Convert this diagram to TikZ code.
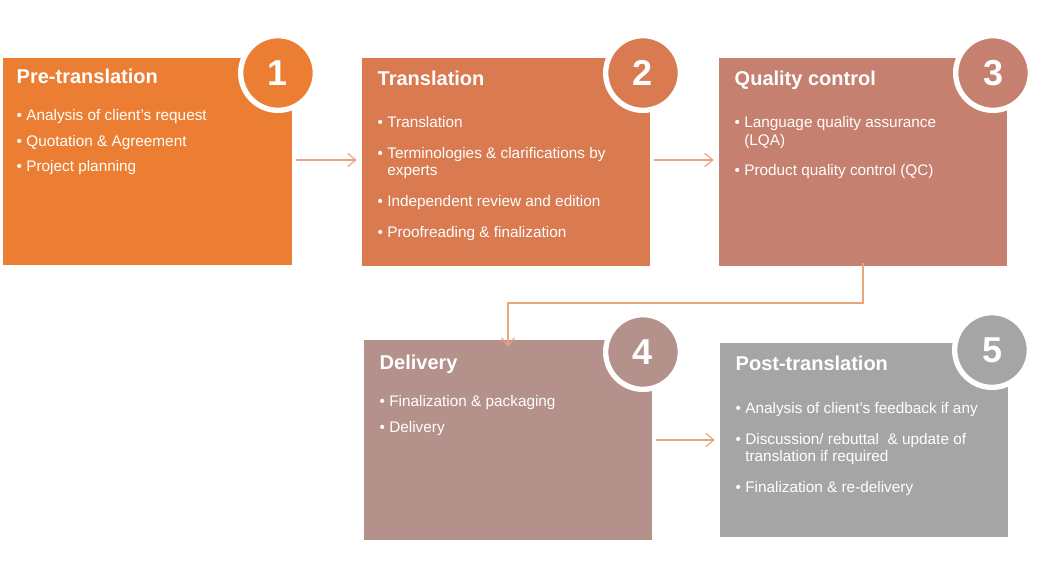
\documentclass[tikz,border=0pt]{standalone}
\usepackage{fontspec}
\setmainfont{Liberation Sans}
\usetikzlibrary{arrows.meta}
\definecolor{c1}{HTML}{EC7E33}
\definecolor{c2}{HTML}{D97A50}
\definecolor{c3}{HTML}{C5806F}
\definecolor{c4}{HTML}{B4918A}
\definecolor{c5}{HTML}{A5A5A5}
\definecolor{arr}{HTML}{E9A57E}
\tikzset{
 box/.style={anchor=north west,inner sep=0pt,outer sep=0pt},
 ttl/.style={anchor=north west,text=white,font=\bfseries\fontsize{15}{18}\selectfont},
 items/.style={anchor=north west,text=white,font=\fontsize{11.5}{13}\selectfont,align=left},
 num/.style={circle,draw=white,line width=4pt,minimum size=56pt,text=white,font=\bfseries\fontsize{27}{27}\selectfont},
 conn/.style={draw=arr,line width=0.9pt,-{Straight Barb[length=6pt,width=10pt]}}
}
\begin{document}
\begin{tikzpicture}[x=0.75pt,y=-0.75pt]
\useasboundingbox (0,0) rectangle (1041,583);
\fill[c1] (3,58) rectangle (292,265); \coordinate (b1) at (292,160);
\fill[c2] (362,58) rectangle (650,266); \coordinate (b2l) at (362,160); \coordinate (b2r) at (650,160);
\fill[c3] (719,58) rectangle (1007,266); \coordinate (b3l) at (719,160); \coordinate (b3b) at (863,266);
\fill[c4] (364,340) rectangle (652,540); \coordinate (b4t) at (508,340); \coordinate (b4r) at (652,440);
\fill[c5] (720,343) rectangle (1008,537); \coordinate (b5l) at (720,440);
\node[num,fill=c1] (n1) at (278,73) {1};
\node[num,fill=c2] (n2) at (643,73) {2};
\node[num,fill=c3] (n3) at (993,73) {3};
\node[num,fill=c4] (n4) at (643,352) {4};
\node[num,fill=c5] (n5) at (992,350) {5};
\node[ttl] (t1) at (12,64) {Pre-translation};
\node[ttl] (t2) at (373,66) {Translation};
\node[ttl] (t3) at (730,66) {Quality control};
\node[ttl] (t4) at (375,350) {Delivery};
\node[ttl] (t5) at (731,351) {Post-translation};
\node[items] (i1) at (12,105) {• Analysis of client's request\\[6pt]• Quotation \& Agreement\\[6pt]• Project planning};
\node[items] (i2) at (373,112) {• Translation\\[10pt]• Terminologies \& clarifications by\\\phantom{• }experts\\[10pt]• Independent review and edition\\[10pt]• Proofreading \& finalization};
\node[items] (i3) at (730,112) {• Language quality assurance\\\phantom{• }(LQA)\\[10pt]• Product quality control (QC)};
\node[items] (i4) at (375,391) {• Finalization \& packaging\\[6pt]• Delivery};
\node[items] (i5) at (731,398) {• Analysis of client's feedback if any\\[10pt]• Discussion/ rebuttal\ \ \& update of\\\phantom{• }translation if required\\[10pt]• Finalization \& re-delivery};
\draw[conn] ([xshift=3pt]b1) -- ([xshift=-4pt]b2l);
\draw[conn] ([xshift=3pt]b2r) -- ([xshift=-4pt]b3l);
\draw[conn] ([yshift=2pt]b3b) -- (863,303) -- (508,303) -- ([yshift=-5pt]b4t);
\draw[conn] ([xshift=3pt]b4r) -- ([xshift=-4pt]b5l);
\end{tikzpicture}
\end{document}
